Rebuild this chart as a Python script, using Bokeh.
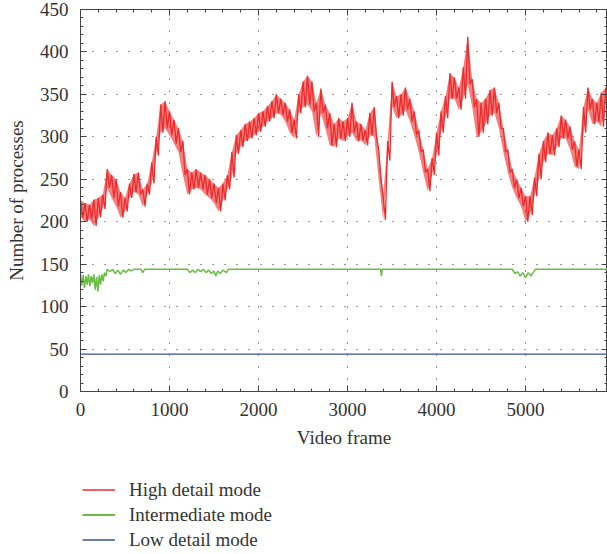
import numpy as np
from bokeh.plotting import figure
from bokeh.layouts import column
from bokeh.models import (Range1d, LinearAxis, Legend, LegendItem, SingleIntervalTicker,
                          CustomJSTickFormatter)
from bokeh.embed import file_html
from bokeh.resources import INLINE

# High detail mode: value every 25 frames (including jitter)
red_values = [
    225, 205, 222, 200, 220, 203, 226, 195, 228, 205, 232, 215, 262, 240, 255, 228,
    250, 218, 235, 205, 228, 212, 245, 228, 256, 235, 258, 232, 238, 218, 245, 232,
    270, 245, 300, 278, 338, 305, 342, 310, 330, 302, 320, 292, 310, 282, 295, 255,
    262, 232, 258, 238, 262, 240, 258, 238, 255, 232, 250, 228, 245, 222, 240, 212,
    245, 225, 255, 238, 282, 252, 302, 280, 308, 288, 315, 295, 318, 298, 322, 302,
    328, 306, 330, 312, 336, 318, 342, 322, 350, 328, 345, 326, 340, 318, 332, 305,
    320, 298, 350, 328, 365, 335, 372, 338, 365, 330, 340, 300, 357, 328, 338, 310,
    328, 290, 315, 288, 322, 298, 318, 295, 322, 300, 340, 305, 318, 295, 315, 296,
    308, 290, 328, 302, 335, 300, 285, 250, 230, 202, 295, 272, 365, 335, 348, 322,
    350, 325, 358, 332, 345, 318, 330, 302, 308, 282, 285, 258, 262, 236, 275, 255,
    305, 278, 330, 305, 348, 322, 375, 345, 370, 345, 358, 332, 382, 345, 418, 362,
    368, 335, 345, 300, 340, 305, 345, 315, 355, 325, 358, 328, 340, 310, 310, 282,
    285, 258, 262, 240, 250, 228, 240, 218, 230, 200, 230, 208, 252, 230, 280, 250,
    295, 270, 305, 280, 302, 278, 310, 288, 325, 298, 320, 298, 312, 285, 295, 265,
    285, 262, 335, 305, 358, 332, 345, 315, 340, 318, 352, 312, 358, 340,
]
red_frames = list(range(0, 25 * len(red_values), 25))

# Intermediate mode
green_frames = [
    0, 15, 30, 45, 60, 75, 90, 105, 120, 135, 150, 165, 180, 195, 210, 225, 240,
    255, 270, 285, 300, 330, 360, 390, 420, 450, 480, 510, 540, 570, 600, 680, 700,
    720, 1200, 1230, 1260, 1290, 1320, 1350, 1380, 1410, 1440, 1470, 1500, 1520,
    1540, 1570, 1600, 1640, 1660, 3370, 3380, 3390, 4850, 4880, 4910, 4940, 4970,
    5000, 5030, 5060, 5090, 5110, 5930,
]
green_values = [
    138, 125, 137, 122, 136, 126, 138, 124, 136, 128, 138, 120, 135, 118, 137, 126, 138,
    130, 140, 136, 144, 141, 144, 139, 143, 138, 143, 140, 144, 142, 144, 144, 140,
    144, 144, 140, 143, 140, 144, 141, 144, 140, 143, 139, 142, 136,
    142, 139, 143, 140, 144, 144, 136, 144, 144, 139, 141, 136, 140,
    134, 140, 136, 141, 144, 144,
]

# Low detail mode
blue_frames = [0, 5930]
blue_values = [44, 44]

series_labels = ["High detail mode", "Intermediate mode", "Low detail mode"]

FONT = "Liberation Serif"
TXT = "#333333"
AX = "#444444"
RED = "#ee2a2a"
GREEN = "#6abd45"
BLUE = "#3b4ea0"

p = figure(width=607, height=460, x_range=Range1d(0, 5920), y_range=Range1d(0, 450),
           output_backend="svg", toolbar_location=None,
           min_border_left=80, min_border_right=0, min_border_top=9, min_border_bottom=69)
p.background_fill_color = "white"
p.border_fill_color = "white"
p.outline_line_color = AX

xt = SingleIntervalTicker(interval=1000, num_minor_ticks=5)
yt = SingleIntervalTicker(interval=50, num_minor_ticks=5)
p.xaxis.ticker = xt
p.yaxis.ticker = yt

for ax in (p.xaxis[0], p.yaxis[0]):
    ax.major_tick_in = 6
    ax.major_tick_out = 0
    ax.minor_tick_in = 3
    ax.minor_tick_out = 0
    ax.axis_line_color = AX
    ax.major_tick_line_color = AX
    ax.minor_tick_line_color = AX
    ax.major_label_text_font = FONT
    ax.major_label_text_font_size = "19px"
    ax.major_label_text_color = TXT
    ax.axis_label_text_font = FONT
    ax.axis_label_text_font_size = "19px"
    ax.axis_label_text_font_style = "normal"
    ax.axis_label_text_color = TXT

p.xaxis.axis_label = "Video frame"
p.yaxis.axis_label = "Number of processes"
p.xaxis.major_label_standoff = 11
p.yaxis.major_label_standoff = 12
p.xaxis.axis_label_standoff = 8
p.yaxis.axis_label_standoff = 10

for loc, tk in (("above", xt), ("right", yt)):
    a = LinearAxis(ticker=tk, formatter=CustomJSTickFormatter(code="return ''"))
    a.major_tick_in = 6
    a.major_tick_out = 0
    a.minor_tick_in = 3
    a.minor_tick_out = 0
    a.axis_line_color = AX
    a.major_tick_line_color = AX
    a.minor_tick_line_color = AX
    a.major_label_text_font_size = "0px"
    a.major_label_standoff = 0
    p.add_layout(a, loc)

p.xgrid.grid_line_color = "#333333"
p.ygrid.grid_line_color = "#333333"
p.xgrid.grid_line_dash = "1 11"
p.ygrid.grid_line_dash = "1 11"
p.xgrid.grid_line_width = 1
p.ygrid.grid_line_width = 1

# envelope of the jittered red trace (high / low samples of the same readings)
red_high = red_values[0::2]
red_low = red_values[1::2]
red_env_frames = red_frames[0::2]

p.line(blue_frames, blue_values, line_color=BLUE, line_width=1.2)
p.line(green_frames, green_values, line_color=GREEN, line_width=1.5)
p.varea(x=red_env_frames, y1=red_low, y2=red_high, fill_color=RED, fill_alpha=0.6)
p.line(red_frames, red_values, line_color=RED, line_width=1.3)

# legend panel below the chart
lg = figure(width=607, height=94, x_range=Range1d(0, 1), y_range=Range1d(0, 1),
            output_backend="svg", toolbar_location=None,
            x_axis_location=None, y_axis_location=None,
            min_border_left=0, min_border_right=0, min_border_top=0, min_border_bottom=0)
lg.outline_line_color = None
lg.xgrid.visible = False
lg.ygrid.visible = False
# same series, drawn outside this panel's view; only their legend samples show
l_red = lg.line(red_frames, red_values, line_color=RED, line_width=1.3)
l_green = lg.line(green_frames, green_values, line_color=GREEN, line_width=2)
l_blue = lg.line(blue_frames, blue_values, line_color=BLUE, line_width=1.3)

legend = Legend(items=[
    LegendItem(label=series_labels[0], renderers=[l_red]),
    LegendItem(label=series_labels[1], renderers=[l_green]),
    LegendItem(label=series_labels[2], renderers=[l_blue]),
], location=(2, 2))
legend.label_text_font = FONT
legend.label_text_font_size = "19px"
legend.label_text_color = TXT
legend.glyph_width = 33
legend.glyph_height = 25
legend.label_height = 25
legend.label_standoff = 14
legend.spacing = 0
legend.padding = 0
legend.margin = 0
legend.border_line_color = None
legend.background_fill_alpha = 0
lg.add_layout(legend, "center")

layout = column(p, lg, spacing=0)
open("out.html", "w").write(file_html(layout, INLINE))
